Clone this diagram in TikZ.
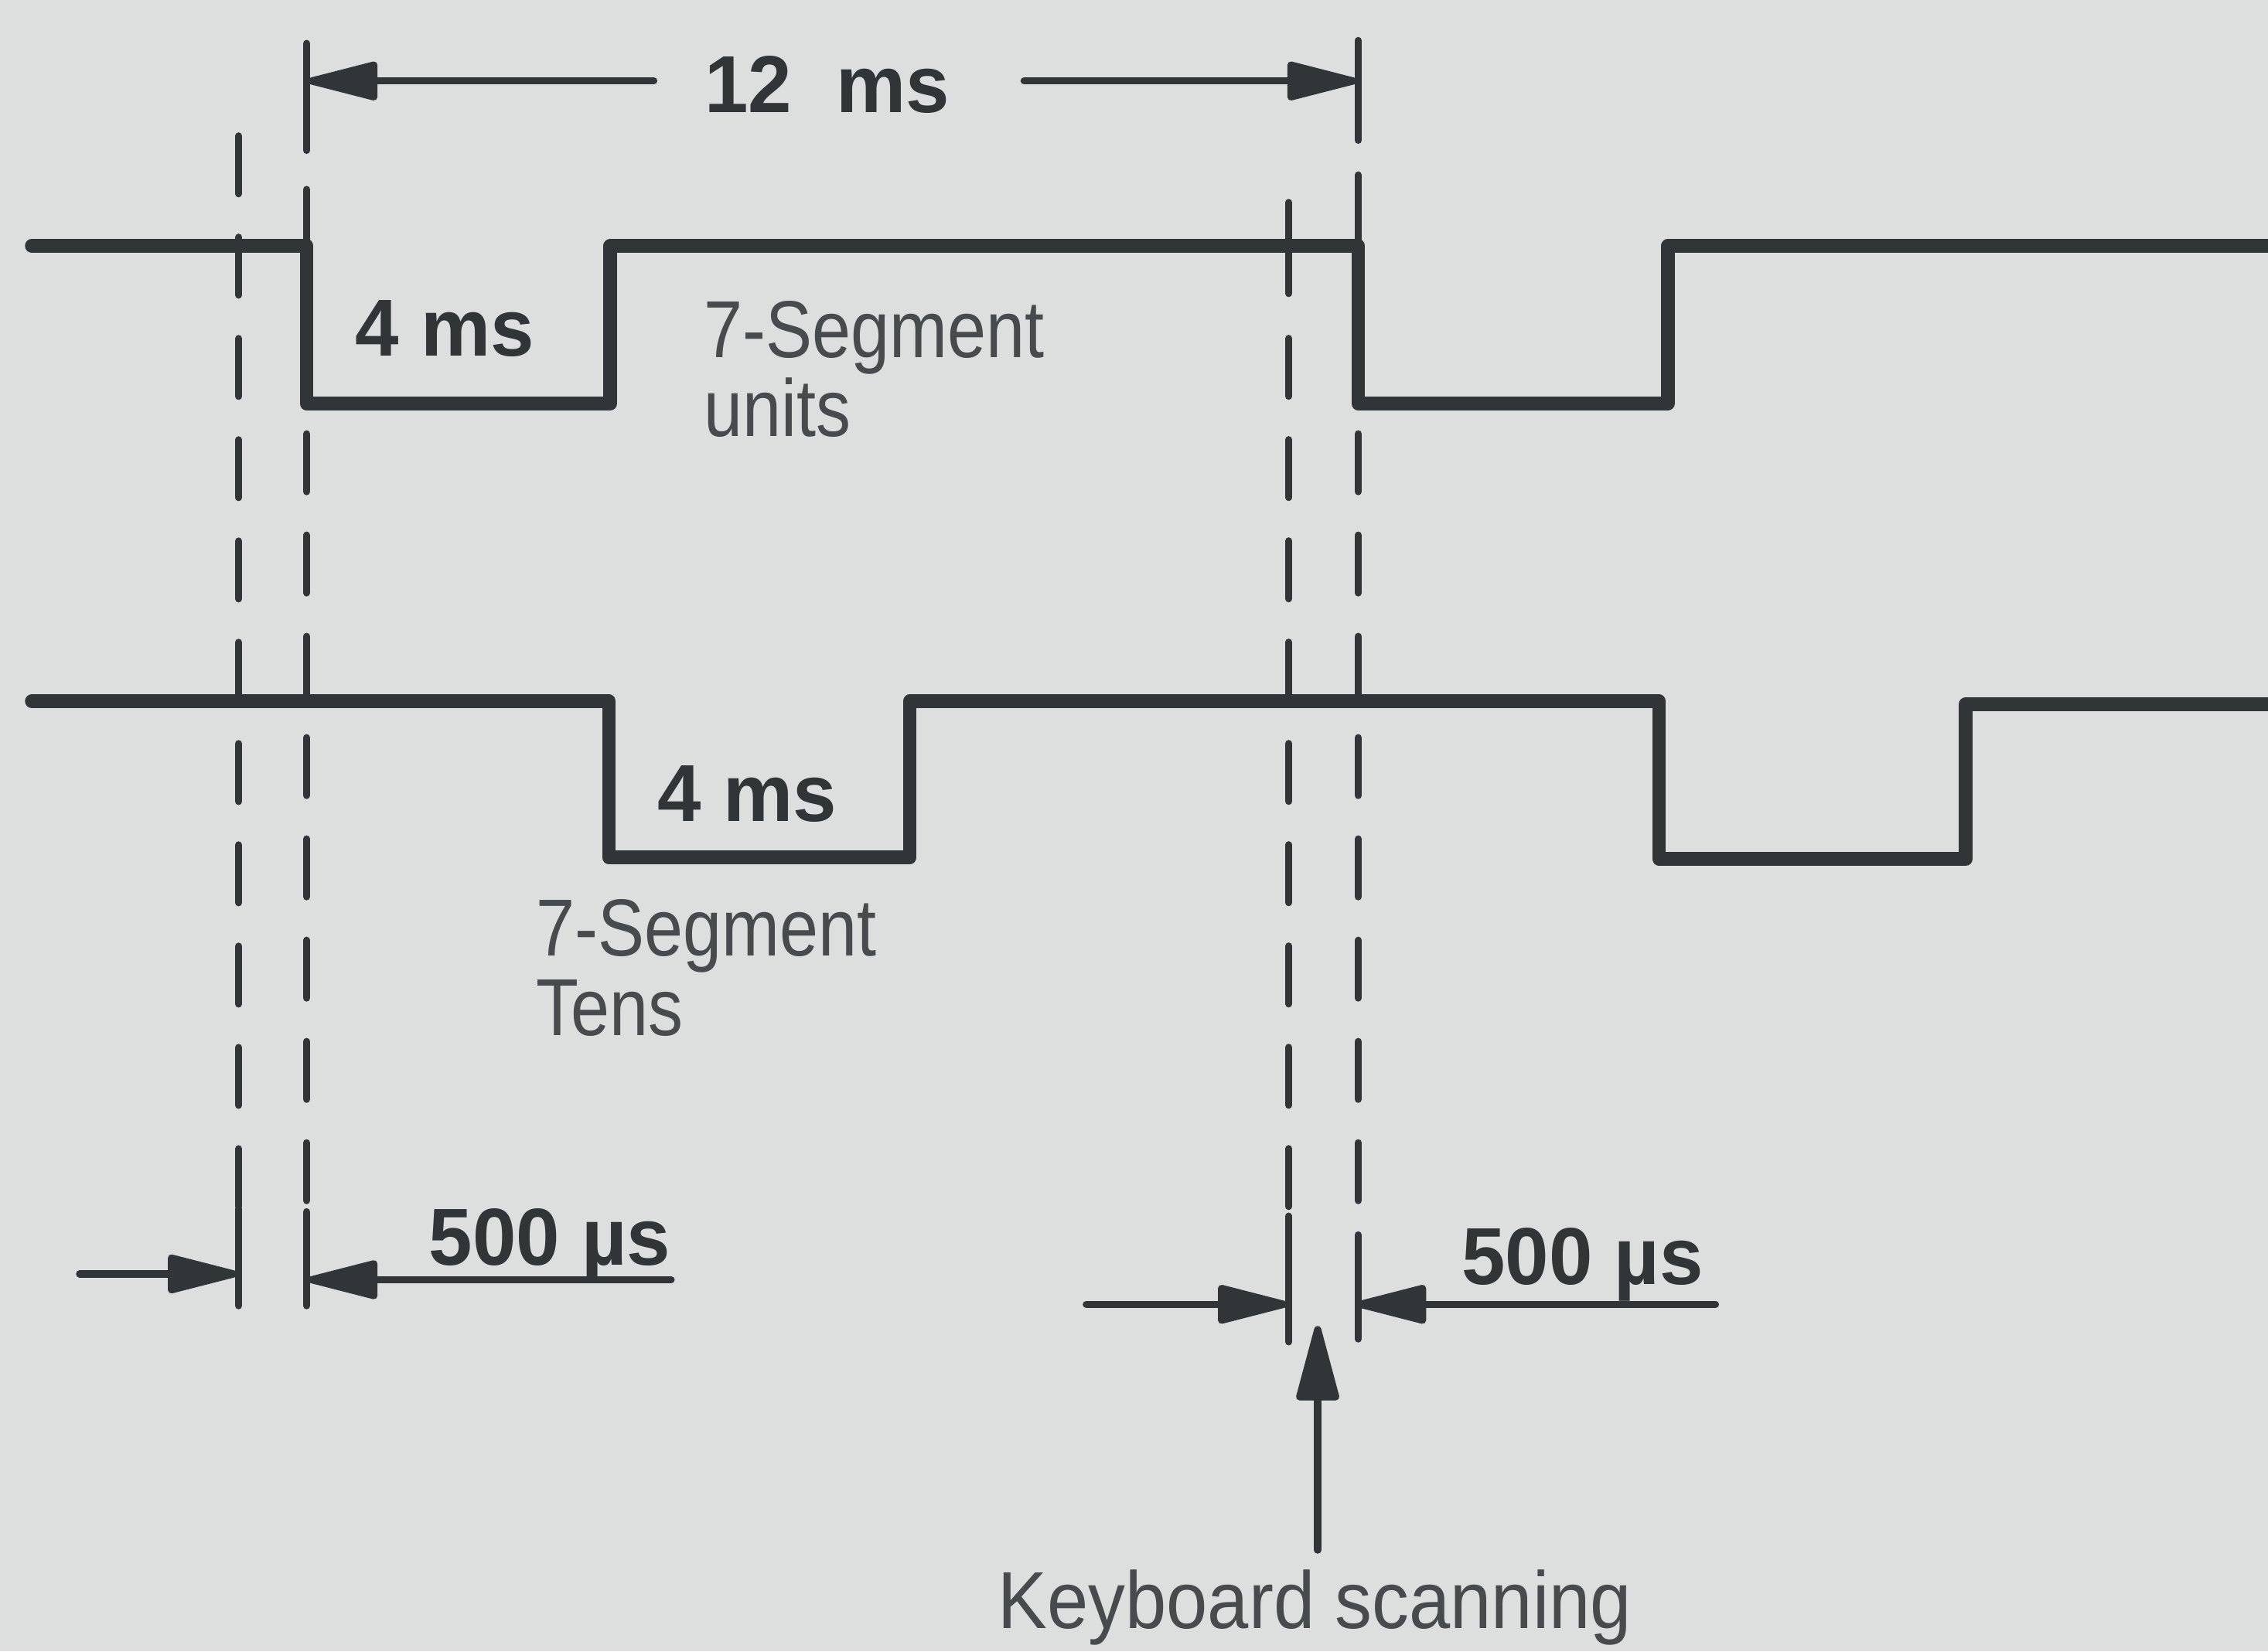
\documentclass[tikz,border=0pt]{standalone}
\usepackage{fontspec}
\setmainfont{Liberation Sans}
\newfontfamily\condfont[FakeStretch=0.86]{Liberation Sans}
\newfontfamily\kbfont[FakeStretch=0.915]{Liberation Sans}
\newfontfamily\dinfont[FakeStretch=0.97]{Liberation Sans}
\usetikzlibrary{arrows.meta}
\definecolor{paper}{RGB}{221,223,222}
\definecolor{ink}{RGB}{50,53,56}
\definecolor{inklight}{RGB}{72,75,78}
\begin{document}
\begin{tikzpicture}[x=0.01cm,y=-0.01cm,
  wave/.style={line width=2.7pt, draw=ink, line join=round, line cap=round},
  thinln/.style={line width=1.4pt, draw=ink, line cap=round},
  dashln/.style={thinln, dash pattern=on 0.4cm off 0.3cm},
  dimarrow/.style={thinln, -{Triangle[length=5.6mm,width=2.7mm,round]}},
  bigarrow/.style={thinln, -{Triangle[length=5.9mm,width=3mm,round]}},
  lbl/.style={inner sep=0pt, text=inklight, font=\condfont\fontsize{15.9}{15.6}\selectfont, align=left},
  val/.style={inner sep=0pt, text=ink, font=\dinfont\bfseries\fontsize{15.9}{16}\selectfont}]
\fill[paper] (0,0) rectangle (1568,1142);
\useasboundingbox (0,0) rectangle (1568,1142);

% ---- key coordinates
\coordinate (s1start) at (22,170);
\coordinate (s2start) at (22,485);
% vertical reference lines
\coordinate (Atop) at (165,94);   \coordinate (Abot) at (165,836); \coordinate (Aend) at (165,903);
\coordinate (Btop) at (212,30);   \coordinate (Bext) at (212,104);
\coordinate (Bmid) at (212,131);  \coordinate (Bsig) at (212,170);
\coordinate (Bdash) at (212,300); \coordinate (Bbot) at (212,838); \coordinate (Bend) at (212,903);
\coordinate (Ctop) at (891,140);  \coordinate (Csol) at (891,203);
\coordinate (Cdash) at (891,234); \coordinate (Cbot) at (891,841); \coordinate (Cend) at (891,928);
\coordinate (Dtop) at (939,28);   \coordinate (Dext) at (939,97);
\coordinate (Dmid) at (939,121);  \coordinate (Dsig) at (939,170);
\coordinate (Ddash) at (939,300); \coordinate (Dbot) at (939,854); \coordinate (Dend) at (939,926);

% ---- waveforms
\draw[wave] (s1start) -- (212,170) -- (212,279) -- (422,279) -- (422,170)
  -- (939,170) -- (939,279) -- (1153,279) -- (1153,170) -- (1575,170);
\draw[wave] (s2start) -- (421,485) -- (421,593) -- (629,593) -- (629,485)
  -- (1147,485) -- (1147,594) -- (1359,594) -- (1359,487) -- (1575,487);

% ---- vertical reference lines
\draw[dashln] (Atop) -- (Abot);
\draw[thinln] (Abot) -- (Aend);
\draw[thinln] (Btop) -- (Bext);
\draw[thinln] (Bmid) -- (Bsig);
\draw[dashln] (Bdash) -- (Bbot);
\draw[thinln] (Bbot) -- (Bend);
\draw[thinln] (Ctop) -- (Csol);
\draw[dashln] (Cdash) -- (Cbot);
\draw[thinln] (Cbot) -- (Cend);
\draw[thinln] (Dtop) -- (Dext);
\draw[thinln] (Dmid) -- (Dsig);
\draw[dashln] (Ddash) -- (Dbot);
\draw[thinln] (Dbot) -- (Dend);

% ---- 12 ms dimension
\coordinate (d12l) at (452,56); \coordinate (d12lt) at (213,56);
\coordinate (d12r) at (708,56); \coordinate (d12rt) at (938,56);
\draw[dimarrow] (d12l) -- (d12lt);
\draw[dimarrow] (d12r) -- (d12rt);
\node[val, anchor=base] (t12) at (572,78) {12\hspace{0.55em}ms};

% ---- labels
\node[val, anchor=base west] (t4a) at (245,246) {4 ms};
\node[lbl, anchor=base west] (units) at (486,302) {7-Segment\\units};
\node[val, anchor=base west] (t4b) at (454,568) {4 ms};
\node[lbl, anchor=base west] (tens) at (370,716) {7-Segment\\Tens};

% ---- left 500 us
\coordinate (lA) at (55,881);  \coordinate (lAt) at (164,881);
\coordinate (lB) at (464,885); \coordinate (lBt) at (213,885);
\draw[dimarrow] (lA) -- (lAt);
\draw[dimarrow] (lB) -- (lBt);
\node[val, anchor=base west] (t500a) at (296,875) {500 µs};

% ---- right 500 us
\coordinate (rC) at (751,902);  \coordinate (rCt) at (890,902);
\coordinate (rD) at (1186,902); \coordinate (rDt) at (938,902);
\draw[dimarrow] (rC) -- (rCt);
\draw[dimarrow] (rD) -- (rDt);
\node[val, anchor=base west] (t500b) at (1010,888) {500 µs};

% ---- keyboard scanning
\coordinate (kbtail) at (911,1072); \coordinate (kbtip) at (911,917);
\draw[bigarrow] (kbtail) -- (kbtip);
\node[inner sep=0pt, text=inklight, font=\kbfont\fontsize{15.9}{15.6}\selectfont, anchor=base] (kb) at (909,1126) {Keyboard scanning};
\end{tikzpicture}
\end{document}
